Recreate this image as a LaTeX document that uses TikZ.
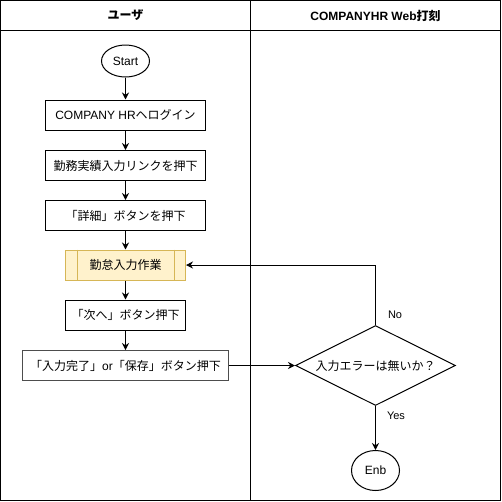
\documentclass[tikz,border=0pt]{standalone}
\usepackage{fontspec}
\setmainfont{Liberation Sans}
\newfontfamily\jp{Noto Sans CJK JP}
\usetikzlibrary{arrows.meta,positioning,calc,shapes.geometric}
\definecolor{procfill}{HTML}{FFF2CC}
\definecolor{procdraw}{HTML}{D6B656}
\definecolor{darkedge}{HTML}{4D4D4D}
\begin{document}
\begin{tikzpicture}[x=1pt,y=-1pt,
  every node/.style={font=\fontsize{12}{14}\selectfont, inner sep=0pt},
  box/.style={draw, line width=1pt, minimum height=30pt, align=center},
  term/.style={draw, ellipse, line width=1pt},
  proc/.style={box, fill=procfill, draw=procdraw, minimum width=120pt},
  flow/.style={line width=1pt, -{Stealth[length=7pt,width=7pt]}},
  lab/.style={font=\fontsize{11}{13}\selectfont},
  hdr/.style={font=\bfseries\fontsize{12}{14}\selectfont}
]
\useasboundingbox (0,0) rectangle (502,501);
% swimlane frame
\draw[line width=1pt] (0.75,0.75) rectangle (500.5,500.25);
\draw[line width=1pt] (0.75,30.5) -- (500.5,30.5);
\draw[line width=1pt] (250.5,0.75) -- (250.5,500.25);
\node[hdr] (h1) at (125.5,15.5) {\jp ユーザ};
\node[hdr] (h2) at (375.5,15.5) {COMPANYHR Web{\jp 打刻}};

% nodes
\node[term, minimum width=48pt, minimum height=32pt] (start) at (125.5,61) {Start};
\node[box, minimum width=160pt] (login) at (125.5,115) {COMPANY HR{\jp ヘログイン}};
\node[box, minimum width=160pt] (link) at (125.5,165.5) {\jp 勤務実績入力リンクを押下};
\node[box, minimum width=160pt] (detail) at (125.5,215.5) {\jp 「詳細」ボタンを押下};
\node[proc] (work) at (125.5,265) {\jp 勤怠入力作業};
\draw[procdraw, line width=1pt] ($(work.north west)+(12,0)$) -- ($(work.south west)+(12,0)$);
\draw[procdraw, line width=1pt] ($(work.north east)+(-12,0)$) -- ($(work.south east)+(-12,0)$);
\node[box, minimum width=120pt] (next) at (125.5,315) {\jp 「次へ」ボタン押下};
\node[box, draw=darkedge, minimum width=206pt] (done) at (125.5,365.5) {{\jp 「入力完了」}or{\jp 「保存」ボタン押下}};
\node[draw, line width=1pt, diamond, aspect=2, minimum width=160pt, minimum height=80pt] (check) at (375.5,365.5) {};
\node (checktxt) at (375.5,365.5) {\jp 入力エラーは無いか？};
\node[term, minimum width=48pt, minimum height=40pt] (end) at (375.5,470.5) {Enb};

% connectors
\draw[flow] (start) -- (login);
\draw[flow] (login) -- (link);
\draw[flow] (link) -- (detail);
\draw[flow] (detail) -- (work);
\draw[flow] (work) -- (next);
\draw[flow] (next) -- (done);
\draw[flow] (done) -- (check);
\draw[flow] (check.north) |- (work.east) node[pos=0.085, lab, anchor=west, xshift=12pt] (no) {No};
\draw[flow] (check.south) -- (end) node[pos=0.23, lab, anchor=west, xshift=11pt] (yes) {Yes};
\end{tikzpicture}
\end{document}
